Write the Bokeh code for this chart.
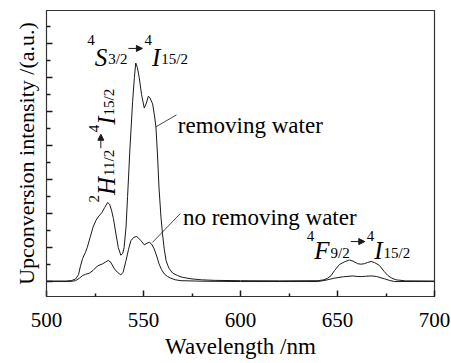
import math
from bokeh.plotting import figure
from bokeh.models import Range1d, FixedTicker, Label, Arrow, NormalHead
from bokeh.embed import file_html
from bokeh.resources import INLINE

# ---------------- data ----------------
wl_removing = [500, 510, 513, 515, 516.5, 517.5, 518.6, 520, 521, 522.5, 524, 525.5, 527, 528.5, 530,
               531.5, 532.5, 533.5, 534.5, 535.8, 537, 538.3, 539.3, 540, 541, 541.8, 543, 544.4, 545.3,
               546, 546.8, 547.8, 549, 550.4, 551.5, 552.5, 553.3, 554.7, 555.6, 556.4, 557.2, 558, 559,
               559.8, 560.7, 561.6, 562.5, 563.3, 565, 567.6, 570, 574.5, 580, 586.5, 600, 620, 640, 643,
               645, 646.7, 648.5, 651, 653.5, 656.1, 658, 660.4, 662, 663.9, 665.5, 667.3, 669, 671.6,
               674, 676, 678, 680.2, 685, 700]
int_removing = [0.03, 0.03, 0.06, 0.15, 0.4, 0.9, 1.35, 1.7, 2.0, 2.6, 3.2, 3.6, 3.85, 4.05, 4.35,
                4.65, 4.55, 4.2, 3.7, 2.8, 2.0, 1.55, 1.65, 2.0, 3.2, 5.0, 7.8, 10.6, 12.0,
                12.85, 12.6, 12.0, 11.0, 10.2, 10.5, 10.9, 10.8, 10.45, 9.8, 9.1, 7.5, 5.5, 3.8,
                2.8, 1.9, 1.25, 0.95, 0.75, 0.5, 0.35, 0.25, 0.16, 0.1, 0.07, 0.05, 0.04, 0.05, 0.1,
                0.2, 0.35, 0.65, 1.0, 1.15, 1.27, 1.2, 1.05, 1.02, 1.05, 1.12, 1.18, 1.12, 0.95,
                0.6, 0.35, 0.2, 0.1, 0.04, 0.03]

wl_noremoving = [500, 512, 515, 517, 518.6, 520, 522, 524, 526.3, 528.9, 530.5, 531.8, 533, 535, 536.5,
                 538.3, 539.5, 541, 542.3, 543.5, 545, 546.4, 547.5, 548.7, 550.4, 551.8, 553, 554.2,
                 555.5, 556.8, 558, 559.3, 560.7, 562.3, 564, 566.5, 569.3, 580, 600, 639.8, 644, 648.4,
                 653, 657.9, 660, 662.2, 664.5, 667.3, 670, 674.2, 677, 679.4, 700]
int_noremoving = [0.0, 0.0, 0.05, 0.2, 0.35, 0.42, 0.49, 0.65, 0.92, 1.04, 1.15, 1.24, 1.15, 0.75, 0.55,
                  0.39, 0.55, 1.24, 1.9, 2.4, 2.6, 2.65, 2.55, 2.4, 2.16, 2.25, 2.31, 2.2,
                  1.92, 1.5, 1.04, 0.7, 0.45, 0.3, 0.2, 0.1, 0.05, 0.02, 0.0, 0.0, 0.08, 0.2,
                  0.28, 0.33, 0.3, 0.29, 0.31, 0.33, 0.3, 0.16, 0.06, 0.0, 0.0]

x_major_ticks = [500, 550, 600, 650, 700]
x_minor_ticks = [525, 575, 625, 675]
y_major_ticks = [0, 2, 4, 6, 8, 10, 12, 14]
y_minor_ticks = [1, 3, 5, 7, 9, 11, 13, 15]

x_title = "Wavelength /nm"
y_title = "Upconversion intensity /(a.u.)"
series_labels = ["removing water", "no removing water"]

# ---------------- layout ----------------
X0, X1 = 500, 700
Y0, Y1 = -0.88, 15.94
W, H = 450, 362
BL, BT, FW, FH = 46, 10, 388, 286
BR, BB = W - BL - FW, H - BT - FH
PXX = (X1 - X0) / FW   # data per px (x)
PXY = (Y1 - Y0) / FH   # data per px (y)

SERIF = "Liberation Serif"
INK = "#1a1a1a"

p = figure(width=W, height=H, output_backend="svg", toolbar_location=None,
           x_range=Range1d(X0, X1), y_range=Range1d(Y0, Y1),
           min_border_left=BL, min_border_right=BR, min_border_top=BT, min_border_bottom=BB)
p.grid.visible = False
p.outline_line_color = "#333333"
p.outline_line_width = 1.2
p.background_fill_color = "white"
p.border_fill_color = "white"

xa = p.xaxis[0]
xa.ticker = FixedTicker(ticks=x_major_ticks, minor_ticks=x_minor_ticks)
xa.major_tick_in = 6
xa.major_tick_out = 0
xa.minor_tick_in = 3
xa.minor_tick_out = 0
xa.major_label_text_font = SERIF
xa.major_label_text_font_size = "21px"
xa.major_label_text_color = "black"
xa.major_label_standoff = 16
xa.axis_line_color = "#333333"
xa.major_tick_line_color = INK
xa.minor_tick_line_color = INK
xa.major_tick_line_width = 1.5
xa.minor_tick_line_width = 1.5
xa.axis_label = x_title
xa.axis_label_text_font = SERIF
xa.axis_label_text_font_size = "23px"
xa.axis_label_text_font_style = "normal"
xa.axis_label_text_color = "black"
xa.axis_label_standoff = 4

ya = p.yaxis[0]
ya.ticker = FixedTicker(ticks=y_major_ticks, minor_ticks=y_minor_ticks)
ya.major_tick_in = 6
ya.major_tick_out = 0
ya.minor_tick_in = 4
ya.minor_tick_out = 0
ya.major_label_overrides = {t: "" for t in y_major_ticks}
ya.major_label_text_font_size = "1px"
ya.major_label_standoff = 0
ya.axis_line_color = "#333333"
ya.major_tick_line_color = INK
ya.minor_tick_line_color = INK
ya.major_tick_line_width = 1.5
ya.minor_tick_line_width = 1.5
ya.axis_label = y_title
ya.axis_label_text_font = SERIF
ya.axis_label_text_font_size = "22px"
ya.axis_label_text_font_style = "normal"
ya.axis_label_text_color = "black"
ya.axis_label_standoff = 8

p.line(wl_removing, int_removing, line_color=INK, line_width=1)
p.line(wl_noremoving, int_noremoving, line_color=INK, line_width=1)

# series labels with leader lines
p.add_layout(Label(x=567.7, y=9.18, text=series_labels[0], text_font=SERIF, text_font_size="23px",
                   text_align="left", text_baseline="alphabetic", text_color="black"))
p.add_layout(Label(x=570.3, y=3.78, text=series_labels[1], text_font=SERIF, text_font_size="23px",
                   text_align="left", text_baseline="alphabetic", text_color="black"))
leader_x0 = [556.4, 554.6]
leader_y0 = [9.1, 2.3]
leader_x1 = [567.0, 569.0]
leader_y1 = [9.8, 4.0]
p.segment(leader_x0, leader_y0, leader_x1, leader_y1, line_color=INK, line_width=0.8)

# transition labels built from pieces
MAIN, SMALL = 25, 15
WID = {'0': .5, '1': .5, '2': .5, '3': .5, '4': .5, '5': .5, '9': .5, '/': .278,
       'S': .5, 'I': .333, 'H': .722, 'F': .611}
ARROW_LEN = 15


def compound(ax, ay, pieces, rise, drop, lift, vertical=False):
    pos = 0.0

    def to_data(along, perp):
        if vertical:
            dx, dy = -perp, along
        else:
            dx, dy = along, perp
        return ax + dx * PXX, ay + dy * PXY

    for kind, txt in pieces:
        if kind == "arrow":
            x0, y0 = to_data(pos + 1, lift)
            x1, y1 = to_data(pos + ARROW_LEN, lift)
            p.add_layout(Arrow(x_start=x0, y_start=y0, x_end=x1, y_end=y1, line_color=INK, line_width=1,
                               end=NormalHead(size=6, fill_color=INK, line_color=INK, line_width=1)))
            pos += ARROW_LEN + 2
            continue
        size = MAIN if kind == "main" else SMALL
        perp = rise if kind == "sup" else (-drop if kind == "sub" else 0)
        x, y = to_data(pos, perp)
        p.add_layout(Label(x=x, y=y, text=txt, text_font=SERIF, text_font_size=f"{size}px",
                           text_font_style="italic" if kind == "main" else "normal",
                           angle=math.pi / 2 if vertical else 0, text_align="left",
                           text_baseline="alphabetic", text_color="black"))
        pos += sum(WID[c] for c in txt) * size + (1 if kind == "main" else 0)


compound(521.0, 13.18, [("sup", "4"), ("main", "S"), ("sub", "3/2"), ("arrow", ""),
                        ("sup", "4"), ("main", "I"), ("sub", "15/2")], rise=17, drop=2, lift=9)
compound(531.1, 4.65, [("sup", "2"), ("main", "H"), ("sub", "11/2"), ("arrow", ""),
                       ("sup", "4"), ("main", "I"), ("sub", "15/2")], rise=13, drop=2, lift=6, vertical=True)
compound(634.2, 1.82, [("sup", "4"), ("main", "F"), ("sub", "9/2"), ("arrow", ""),
                       ("sup", "4"), ("main", "I"), ("sub", "15/2")], rise=15, drop=2, lift=9)

open("out.html", "w").write(file_html(p, INLINE))
